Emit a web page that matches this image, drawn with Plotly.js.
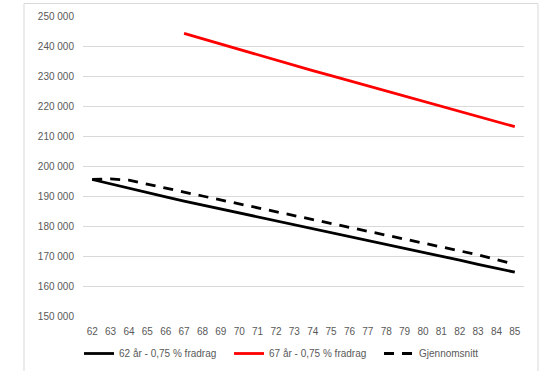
<!DOCTYPE html>
<html>
<head>
<meta charset="utf-8">
<script src="https://cdn.plot.ly/plotly-3.0.1.min.js"></script>
<style>html,body{margin:0;padding:0;background:#fff;}#chart{width:550px;height:371px;}</style>
</head>
<body>
<div id="chart"></div>
<script>
const ages = ["62","63","64","65","66","67","68","69","70","71","72","73","74","75","76","77","78","79","80","81","82","83","84","85"];
const ages67 = ["67","68","69","70","71","72","73","74","75","76","77","78","79","80","81","82","83","84","85"];
const uttak62 = [195500,194000,192500,191100,189700,188300,187000,185600,184300,183000,181700,180400,179100,177800,176500,175200,173900,172600,171200,169900,168600,167200,165900,164600];
const uttak67 = [244200,242400,240600,238800,237100,235300,233600,231800,230100,228400,226600,224900,223200,221500,219800,218100,216400,214700,213100];
const snitt = [195500,195700,195300,193900,192600,191300,190000,188700,187400,186100,184800,183500,182200,180900,179600,178300,177000,175700,174400,173100,171800,170400,168800,167200];
const names = ["62 år - 0,75 % fradrag","67 år - 0,75 % fradrag","Gjennomsnitt"];

const traces = [
  {x: ages, y: uttak62, name: names[0], type: "scatter", mode: "lines", line: {color: "#000000", width: 2.8}},
  {x: ages67, y: uttak67, name: names[1], type: "scatter", mode: "lines", line: {color: "#ff0000", width: 2.8}},
  {x: ages, y: snitt, name: names[2], type: "scatter", mode: "lines", line: {color: "#000000", width: 2.8, dash: "10px,8px"}}
];

const gray = "#595959";
const layout = {
  width: 550, height: 371,
  margin: {l: 83, r: 26, t: 16, b: 55, autoexpand: false},
  paper_bgcolor: "#ffffff", plot_bgcolor: "#ffffff",
  separators: ", ",
  font: {family: "Liberation Sans, Arial, sans-serif", size: 10, color: gray},
  showlegend: true,
  legend: {orientation: "h", x: -0.009, xanchor: "left", y: -0.125, yanchor: "middle",
           entrywidth: 105, entrywidthmode: "pixels", font: {size: 10, color: gray},
           traceorder: "normal", bgcolor: "rgba(0,0,0,0)"},
  xaxis: {type: "category", categoryorder: "array", categoryarray: ages, range: [-0.5, 23.5],
          showgrid: false, zeroline: false, showline: false, ticks: "", ticklabelstandoff: 8,
          tickfont: {size: 10, color: gray}, fixedrange: true},
  yaxis: {range: [150000, 250000], dtick: 10000, tickformat: ",d", showgrid: true, gridcolor: "#d9d9d9",
          gridwidth: 1, zeroline: false, showline: false, ticks: "", ticklabelstandoff: 8,
          tickfont: {size: 10, color: gray}, fixedrange: true},
  shapes: [{type: "rect", xref: "paper", yref: "paper", x0: -0.1338, x1: 1.0317, y0: -0.3, y1: 1.0417,
            line: {color: "#d9d9d9", width: 1}, fillcolor: "rgba(0,0,0,0)", layer: "below"}]
};
Plotly.newPlot("chart", traces, layout, {staticPlot: true, displayModeBar: false});
</script>
</body>
</html>
